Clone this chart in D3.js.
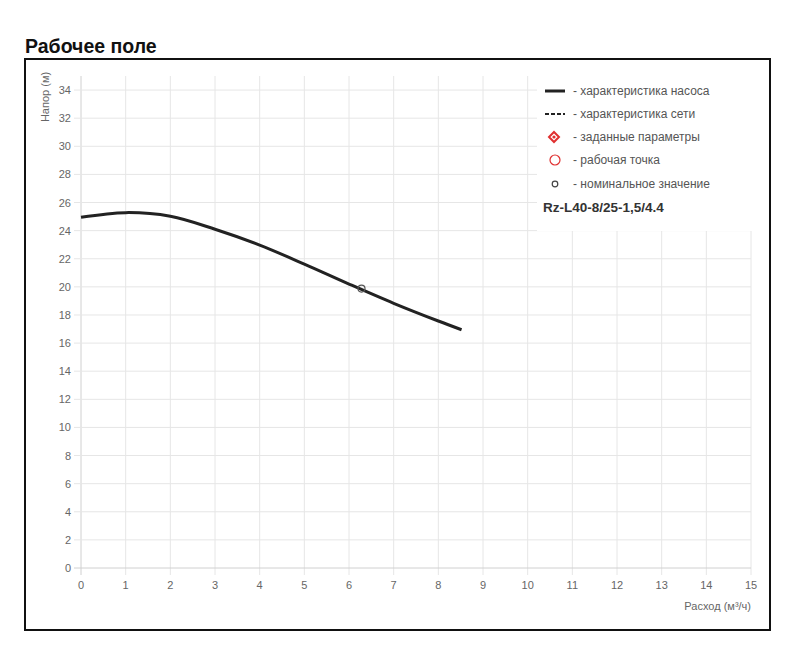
<!DOCTYPE html>
<html><head><meta charset="utf-8">
<script src="https://cdn.jsdelivr.net/npm/d3@7"></script>
<style>
body{margin:0;background:#fff;font-family:"Liberation Sans",Arial,Helvetica,sans-serif;}
</style></head>
<body><svg id="c" width="800" height="665"></svg>
<script>
const flow = [0, 1, 2, 3, 4, 5, 6, 7, 8, 8.52];
const head = [24.95, 25.28, 25.02, 24.1, 22.97, 21.62, 20.2, 18.83, 17.57, 16.95];
const nominal = [6.28, 19.88];
const xTicks = d3.range(0, 16, 1);
const yTicks = d3.range(0, 36, 2);
const legendLabels = ["- характеристика насоса","- характеристика сети","- заданные параметры","- рабочая точка","- номинальное значение"];
const modelName = "Rz-L40-8/25-1,5/4.4";

const svg = d3.select("#c");
svg.append("text").attr("x",25).attr("y",53).attr("font-size",19.5).attr("font-weight","bold")
  .attr("fill","#111").text("Рабочее поле");
svg.append("rect").attr("x",25).attr("y",59).attr("width",745).attr("height",571)
  .attr("fill","#fff").attr("stroke","#111").attr("stroke-width",2);

const x = d3.scaleLinear().domain([0,15]).range([81,751]);
const y = d3.scaleLinear().domain([0,35]).range([568,76]);

const g = svg.append("g");
g.selectAll(".vg").data(xTicks).join("line").attr("x1",d=>x(d)).attr("x2",d=>x(d))
  .attr("y1",y(35)).attr("y2",575).attr("stroke",d=>d===0?"#d0d0d0":"#e6e6e6");
g.selectAll(".hg").data(yTicks).join("line").attr("y1",d=>y(d)).attr("y2",d=>y(d))
  .attr("x1",74).attr("x2",x(15)).attr("stroke",d=>d===0?"#d0d0d0":"#e6e6e6");
g.selectAll(".xt").data(xTicks).join("text").attr("x",d=>x(d)).attr("y",589)
  .attr("text-anchor","middle").attr("font-size",11).attr("fill","#666").text(d=>d);
g.selectAll(".yt").data(yTicks).join("text").attr("x",71).attr("y",d=>y(d)+4)
  .attr("text-anchor","end").attr("font-size",11).attr("fill","#666").text(d=>d);
svg.append("text").attr("x",751).attr("y",610).attr("text-anchor","end").attr("font-size",11)
  .attr("fill","#666").text("Расход (м³/ч)");
svg.append("text").attr("transform","translate(49,97) rotate(-90)").attr("text-anchor","middle")
  .attr("font-size",11).attr("fill","#666").text("Напор (м)");

svg.append("rect").attr("x",537).attr("y",70).attr("width",225).attr("height",161).attr("fill","#fff");

const pts = flow.map((f,i)=>[f,head[i]]);
svg.append("path").datum(pts).attr("fill","none").attr("stroke","#222").attr("stroke-width",3)
  .attr("d", d3.line().x(d=>x(d[0])).y(d=>y(d[1])).curve(d3.curveCatmullRom.alpha(0.5)));
svg.append("circle").attr("cx",x(nominal[0])).attr("cy",y(nominal[1])).attr("r",3.5)
  .attr("fill","none").attr("stroke","#555").attr("stroke-width",1.2);

const ly = [91,114,137,160,184];
const lg = svg.append("g");
lg.selectAll("text.l").data(legendLabels).join("text").attr("x",573).attr("y",(d,i)=>ly[i]+4)
  .attr("font-size",12).attr("fill","#555").text(d=>d);
lg.append("line").attr("x1",545).attr("x2",565).attr("y1",ly[0]).attr("y2",ly[0]).attr("stroke","#222").attr("stroke-width",3);
lg.append("line").attr("x1",545).attr("x2",565).attr("y1",ly[1]).attr("y2",ly[1]).attr("stroke","#222").attr("stroke-width",2).attr("stroke-dasharray","4,2");
lg.append("path").attr("d",`M554,${ly[2]-5}L559,${ly[2]}L554,${ly[2]+5}L549,${ly[2]}Z`).attr("fill","none").attr("stroke","#e03030").attr("stroke-width",2);
lg.append("circle").attr("cx",554).attr("cy",ly[2]).attr("r",1.6).attr("fill","#e03030");
lg.append("circle").attr("cx",555).attr("cy",ly[3]).attr("r",5).attr("fill","none").attr("stroke","#e03030").attr("stroke-width",1.2);
lg.append("circle").attr("cx",555).attr("cy",ly[4]).attr("r",2.8).attr("fill","none").attr("stroke","#444").attr("stroke-width",1.2);
lg.append("text").attr("x",543).attr("y",212).attr("font-size",13.5).attr("font-weight","bold").attr("fill","#333").text(modelName);
</script></body></html>
